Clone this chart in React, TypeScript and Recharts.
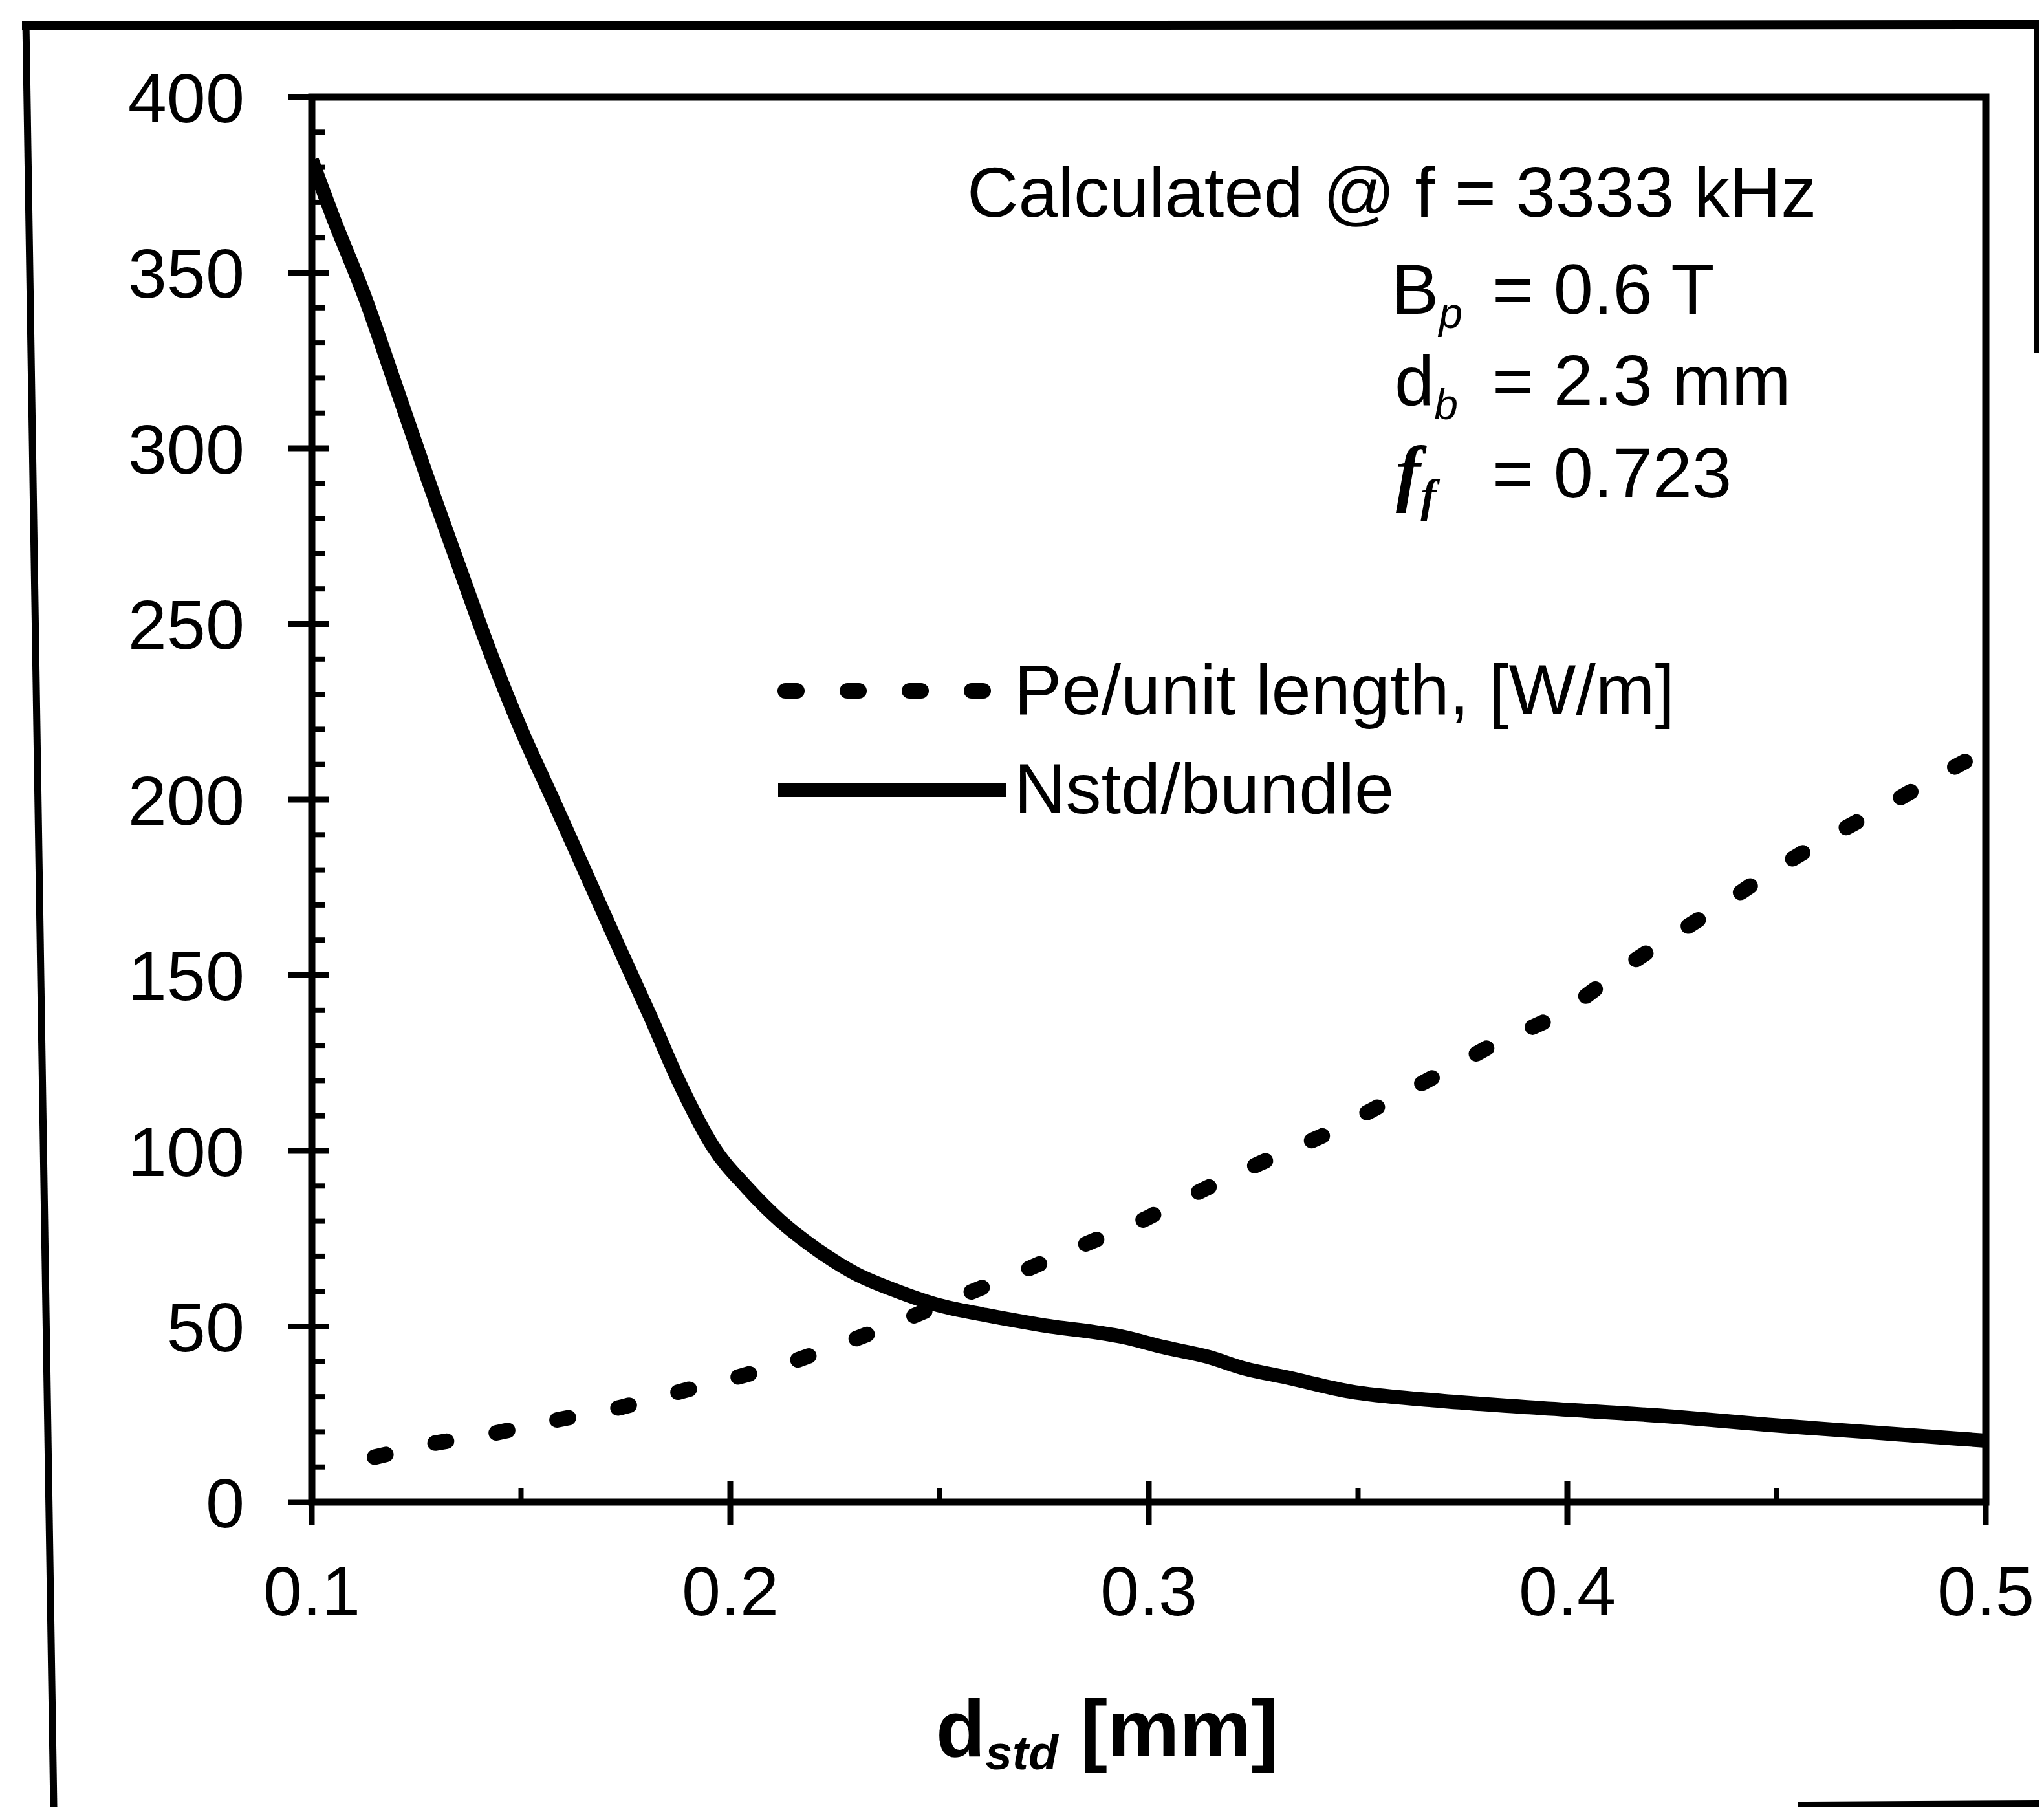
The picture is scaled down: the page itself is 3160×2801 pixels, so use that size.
import React from 'react';
import { LineChart, Line, XAxis, YAxis, ReferenceArea } from 'recharts';

const FONT = '"Liberation Sans", Arial, Helvetica, sans-serif';
const SERIF = '"Liberation Serif", "Times New Roman", serif';

// ---- axes ----
const xTicks = [0.1, 0.15, 0.2, 0.25, 0.3, 0.35, 0.4, 0.45, 0.5];
const xMajorLabels = ['0.1', '0.2', '0.3', '0.4', '0.5'];
const yTicks = [
  0, 10, 20, 30, 40, 50, 60, 70, 80, 90, 100, 110, 120, 130, 140, 150, 160, 170, 180, 190, 200,
  210, 220, 230, 240, 250, 260, 270, 280, 290, 300, 310, 320, 330, 340, 350, 360, 370, 380, 390, 400,
];
const yMajorLabels = ['0', '50', '100', '150', '200', '250', '300', '350', '400'];

// ---- series: Nstd/bundle (solid) ----
const nstdX = [
  0.1, 0.105, 0.1127, 0.12, 0.1275, 0.135, 0.1426, 0.15, 0.158, 0.1655, 0.173, 0.181, 0.188,
  0.196, 0.204, 0.212, 0.22, 0.23, 0.24, 0.25, 0.26, 0.274, 0.294, 0.304, 0.314, 0.323,
  0.333, 0.348, 0.368, 0.391, 0.4255, 0.448, 0.471, 0.494, 0.5,
];
const nstdValues = [
  382, 366, 343, 318, 292, 267, 242, 220, 199, 179, 159, 138, 119,
  101, 89.5, 80, 72.5, 65, 60, 56, 53.5, 50.5, 47, 44, 41.4, 38,
  35.5, 31.5, 29, 27, 24.3, 22, 20, 18, 17.5,
];

// ---- series: Pe/unit length (dotted) ----
const peX = [
  0.115, 0.129, 0.144, 0.157, 0.174, 0.191, 0.2, 0.215, 0.2285, 0.2414, 0.255, 0.27,
  0.284, 0.299, 0.314, 0.327, 0.341, 0.353, 0.3665, 0.381, 0.395, 0.4, 0.413, 0.424, 0.438,
  0.448, 0.462, 0.475, 0.489, 0.5,
];
const peValues = [
  12.8, 16.7, 19.7, 23, 27, 32.4, 35, 40, 45.8, 51.8, 58.6, 65.8,
  73, 80.5, 89.5, 96.7, 104, 111.4, 120, 129.4, 137, 140, 151.8, 160.3, 170.8,
  178.9, 189, 197.4, 207, 214,
];

const nstdData = nstdX.map((x, i) => ({ x, v: nstdValues[i] }));
const peData = peX.map((x, i) => ({ x, v: peValues[i] }));

const W = 3144;
const H = 2785;
const Y_AXIS_W = 300;
const X_AXIS_H = 300;

function XTick(props: any) {
  const { x, y, payload } = props;
  const v = payload.value as number;
  const major = Math.abs(v * 10 - Math.round(v * 10)) < 1e-6;
  const label = xMajorLabels.find((s) => Math.abs(parseFloat(s) - v) < 1e-6);
  return (
    <g>
      {major ? (
        <line x1={x} x2={x} y1={y - 32} y2={y + 36} stroke="#000" strokeWidth={9} />
      ) : (
        <line x1={x} x2={x} y1={y} y2={y - 22} stroke="#000" strokeWidth={8} />
      )}
      {major && label && (
        <text x={x} y={y + 175} textAnchor="middle" fontSize={108} fontFamily={FONT} fill="#000">
          {label}
        </text>
      )}
    </g>
  );
}

function YTick(props: any) {
  const { x, y, payload } = props;
  const v = payload.value as number;
  const label = yMajorLabels.find((s) => parseFloat(s) === v);
  const major = label !== undefined;
  return (
    <g>
      {major ? (
        <line x1={x - 36} x2={x + 26} y1={y} y2={y} stroke="#000" strokeWidth={9} />
      ) : (
        <line x1={x} x2={x + 20} y1={y} y2={y} stroke="#000" strokeWidth={8} />
      )}
      {major && (
        <text x={x - 104} y={y} dy="0.36em" textAnchor="end" fontSize={108} fontFamily={FONT} fill="#000">
          {label}
        </text>
      )}
    </g>
  );
}

export default function App() {
  return (
    <div style={{ position: 'relative', width: W, height: H, background: '#fff', fontFamily: FONT }}>
      <div style={{ position: 'absolute', left: 0, top: 0 }}>
        <LineChart
          width={W}
          height={H}
          margin={{ top: 142, right: 82, bottom: 471 - X_AXIS_H, left: 474 - Y_AXIS_W }}
        >
          <XAxis
            dataKey="x"
            type="number"
            domain={[0.1, 0.5]}
            allowDataOverflow
            ticks={xTicks}
            interval={0}
            height={X_AXIS_H}
            tickSize={0}
            tickMargin={0}
            tickLine={false}
            tick={XTick}
            axisLine={{ stroke: '#000', strokeWidth: 10 }}
          />
          <YAxis
            type="number"
            domain={[0, 400]}
            allowDataOverflow
            ticks={yTicks}
            interval={0}
            width={Y_AXIS_W}
            tickSize={0}
            tickMargin={0}
            tickLine={false}
            tick={YTick}
            axisLine={{ stroke: '#000', strokeWidth: 10 }}
          />
          <ReferenceArea x1={0.1} x2={0.5} y1={0} y2={400} fill="none" stroke="#000" strokeWidth={11} />
          <Line
            data={peData}
            dataKey="v"
            type="linear"
            stroke="#000"
            strokeWidth={24}
            strokeDasharray="18 78"
            strokeLinecap="round"
            dot={false}
            activeDot={false}
            isAnimationActive={false}
            name="Pe/unit length, [W/m]"
          />
          <Line
            data={nstdData}
            dataKey="v"
            type="monotone"
            stroke="#000"
            strokeWidth={22}
            dot={false}
            activeDot={false}
            isAnimationActive={false}
            name="Nstd/bundle"
          />
        </LineChart>
      </div>
      <svg
        width={W}
        height={H}
        style={{ position: 'absolute', left: 0, top: 0, pointerEvents: 'none', overflow: 'visible' }}
      >
        {/* outer frame (scanned figure border) */}
        <g stroke="#000" fill="none">
          <line x1={26} y1={32} x2={W} y2={30} strokeWidth={14} />
          <line x1={32} y1={26} x2={75} y2={H} strokeWidth={11} />
          <line x1={3142} y1={26} x2={3142} y2={537} strokeWidth={10} />
          <line x1={2772} y1={2782} x2={W} y2={2780} strokeWidth={10} />
        </g>

        {/* annotation */}
        <g fontFamily={FONT} fill="#000" fontSize={110}>
          <text x={1487} y={327}>Calculated @ f = 3333 kHz</text>
          <text x={2143} y={477}>
            B<tspan fontSize={66} fontStyle="italic" dy={22}>p</tspan>
          </text>
          <text x={2299} y={477}>= 0.6 T</text>
          <text x={2148} y={618}>
            d<tspan fontSize={66} fontStyle="italic" dy={22}>b</tspan>
          </text>
          <text x={2299} y={618}>= 2.3 mm</text>
          <text x={2150} y={761} fontFamily={SERIF} fontStyle="italic" fontWeight="bold" fontSize={115}>
            f<tspan fontSize={72} dy={22}>f</tspan>
          </text>
          <text x={2299} y={761}>= 0.723</text>
        </g>

        {/* legend */}
        <g>
          <line
            x1={1206}
            y1={1060}
            x2={1544}
            y2={1060}
            stroke="#000"
            strokeWidth={24}
            strokeDasharray="18 78"
            strokeLinecap="round"
          />
          <text x={1560} y={1096} fontFamily={FONT} fontSize={110} fill="#000">
            Pe/unit length, [W/m]
          </text>
          <line x1={1195} y1={1213} x2={1548} y2={1213} stroke="#000" strokeWidth={22} />
          <text x={1560} y={1249} fontFamily={FONT} fontSize={110} fill="#000">
            Nstd/bundle
          </text>
        </g>

        {/* x-axis title */}
        <text x={1439} y={2707} fontFamily={FONT} fontWeight="bold" fontSize={125} fill="#000">
          d
          <tspan fontSize={75} fontStyle="italic" dy={20}>
            std
          </tspan>
          <tspan dy={-20}> [mm]</tspan>
        </text>
      </svg>
    </div>
  );
}
